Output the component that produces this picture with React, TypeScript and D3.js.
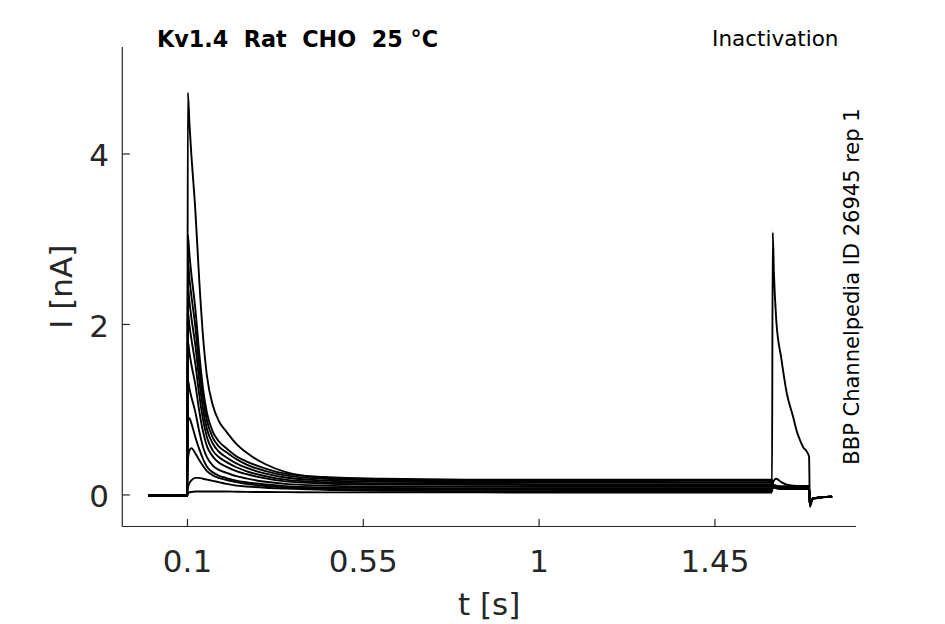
import { useMemo } from 'react';
import * as d3 from 'd3';

// sample times (s): prepulse and test pulse segments
const prepulseTimes = [0, 0.0995, 0.101, 0.105, 0.11, 0.12, 0.13, 0.14, 0.15, 0.165, 0.18, 0.2, 0.225, 0.25, 0.3, 0.35, 0.45, 0.6, 0.85, 1.1, 1.35, 1.596];
const testTimes = [1.598, 1.601, 1.607, 1.62, 1.634, 1.65, 1.66, 1.668, 1.676, 1.685, 1.691, 1.693, 1.7, 1.75];

// currents (nA) per sweep during the prepulse
const pre1 = [-0.01, -0.01, 4.72, 4.36, 3.99, 3.35, 2.53, 1.85, 1.39, 1.05, 0.87, 0.74, 0.6, 0.5, 0.36, 0.27, 0.2, 0.17, 0.16, 0.16, 0.15, 0.15];
const pre2 = [-0.01, -0.01, 3.05, 2.82, 2.59, 2.19, 1.67, 1.24, 0.96, 0.74, 0.63, 0.545, 0.455, 0.395, 0.31, 0.25, 0.21, 0.19, 0.18, 0.18, 0.18, 0.18];
const pre3 = [0, -0.01, 2.75, 2.54, 2.34, 1.98, 1.51, 1.13, 0.87, 0.67, 0.57, 0.5, 0.42, 0.36, 0.28, 0.23, 0.19, 0.175, 0.17, 0.165, 0.165, 0.165];
const pre4 = [-0.01, 0, 2.45, 2.27, 2.08, 1.76, 1.35, 1.0, 0.77, 0.6, 0.51, 0.44, 0.37, 0.32, 0.25, 0.205, 0.17, 0.155, 0.15, 0.145, 0.145, 0.145];
const pre5 = [-0.01, -0.01, 2.15, 1.99, 1.83, 1.54, 1.18, 0.88, 0.675, 0.52, 0.445, 0.385, 0.325, 0.28, 0.22, 0.18, 0.15, 0.135, 0.13, 0.125, 0.125, 0.125];
const pre6 = [0, -0.01, 1.8, 1.67, 1.53, 1.3, 0.99, 0.74, 0.57, 0.45, 0.38, 0.33, 0.28, 0.246, 0.194, 0.16, 0.135, 0.123, 0.12, 0.115, 0.115, 0.115];
const pre7 = [-0.01, -0.01, 1.35, 1.25, 1.15, 0.975, 0.75, 0.56, 0.44, 0.345, 0.295, 0.26, 0.22, 0.194, 0.155, 0.13, 0.11, 0.1, 0.1, 0.095, 0.095, 0.095];
const pre8 = [-0.01, -0.01, 0.86, 0.9, 0.84, 0.68, 0.54, 0.42, 0.33, 0.265, 0.227, 0.198, 0.168, 0.149, 0.122, 0.104, 0.088, 0.082, 0.08, 0.078, 0.078, 0.078];
const pre9 = [-0.01, -0.01, 0.4, 0.52, 0.55, 0.49, 0.41, 0.34, 0.28, 0.23, 0.2, 0.175, 0.15, 0.13, 0.105, 0.09, 0.072, 0.065, 0.06, 0.058, 0.058, 0.058];
const pre10 = [-0.01, -0.01, 0.08, 0.14, 0.17, 0.2, 0.2, 0.19, 0.18, 0.165, 0.15, 0.13, 0.11, 0.1, 0.085, 0.075, 0.06, 0.05, 0.045, 0.045, 0.04, 0.04];
const pre11 = [-0.01, -0.01, 0.02, 0.03, 0.035, 0.04, 0.04, 0.04, 0.04, 0.04, 0.04, 0.04, 0.038, 0.036, 0.035, 0.033, 0.03, 0.03, 0.03, 0.028, 0.028, 0.028];

// currents (nA) per sweep during the test pulse
const test1 = [0.12, 0.115, 0.11, 0.1, 0.1, 0.1, 0.1, 0.1, 0.1, 0.1, 0.1, -0.1, -0.04, -0.02];
const test2 = [0.12, 0.115, 0.11, 0.1, 0.1, 0.1, 0.1, 0.1, 0.1, 0.1, 0.1, -0.1, -0.04, -0.02];
const test3 = [0.11, 0.105, 0.1, 0.09, 0.09, 0.09, 0.09, 0.09, 0.09, 0.09, 0.09, -0.1, -0.04, -0.02];
const test4 = [0.11, 0.105, 0.1, 0.09, 0.09, 0.09, 0.09, 0.09, 0.09, 0.09, 0.09, -0.11, -0.04, -0.02];
const test5 = [0.1, 0.095, 0.09, 0.08, 0.08, 0.08, 0.08, 0.08, 0.08, 0.08, 0.08, -0.11, -0.04, -0.02];
const test6 = [0.1, 0.095, 0.09, 0.08, 0.08, 0.08, 0.08, 0.08, 0.08, 0.08, 0.08, -0.11, -0.04, -0.02];
const test7 = [0.1, 0.095, 0.09, 0.08, 0.08, 0.08, 0.08, 0.08, 0.08, 0.08, 0.08, -0.12, -0.04, -0.02];
const test8 = [0.09, 0.085, 0.08, 0.07, 0.07, 0.07, 0.07, 0.07, 0.07, 0.07, 0.07, -0.12, -0.04, -0.02];
const test9 = [0.09, 0.085, 0.08, 0.07, 0.07, 0.07, 0.07, 0.07, 0.07, 0.07, 0.07, -0.12, -0.04, -0.02];
const test10 = [0.12, 0.17, 0.19, 0.15, 0.12, 0.11, 0.105, 0.105, 0.105, 0.105, 0.105, -0.12, -0.04, -0.02];
const test11 = [3.08, 2.6, 2.05, 1.6, 1.19, 0.92, 0.74, 0.64, 0.56, 0.51, 0.45, -0.14, -0.05, -0.02];

const sweeps = [
  [pre1, test1], [pre2, test2], [pre3, test3], [pre4, test4], [pre5, test5], [pre6, test6],
  [pre7, test7], [pre8, test8], [pre9, test9], [pre10, test10], [pre11, test11],
];

const xTicks = [0.1, 0.55, 1, 1.45];
const yTicks = [0, 2, 4];

const axisColor = '#262626';
const font = 'DejaVu Sans, sans-serif';

export default function App() {
  const width = 945;
  const height = 624;
  const left = 122.3;
  const right = 856;
  const top = 47;
  const bottom = 526.5;

  const x = d3.scaleLinear().domain([-0.0668, 1.8111]).range([left, right]);
  const y = d3.scaleLinear().domain([-0.37, 5.255]).range([bottom, top]);

  const paths = useMemo(() => {
    const times = prepulseTimes.concat(testTimes);
    const line = d3
      .line<number>()
      .x((_, i) => x(times[i]))
      .y((d) => y(d))
      .curve(d3.curveMonotoneX);
    return sweeps.map(([pre, test]) => line(pre.concat(test)) ?? '');
  }, []);

  return (
    <svg
      width={width}
      height={height}
      style={{ position: 'absolute', left: 0, top: 0, background: '#fff' }}
      fontFamily={font}
    >
      <rect width={width} height={height} fill="#fff" />

      <g fill="none" stroke="#000" strokeWidth={1.9} strokeLinejoin="round">
        {paths.map((d, i) => (
          <path key={i} d={d} />
        ))}
      </g>

      {/* axes */}
      <g stroke={axisColor} strokeWidth={1.2} fill="none">
        <line x1={left} x2={right} y1={bottom} y2={bottom} />
        <line x1={left} x2={left} y1={top} y2={bottom} />
        {xTicks.map((t) => (
          <line key={t} x1={x(t)} x2={x(t)} y1={bottom} y2={bottom - 7.5} />
        ))}
        {yTicks.map((t) => (
          <line key={t} x1={left} x2={left + 7.5} y1={y(t)} y2={y(t)} />
        ))}
      </g>

      <g fill={axisColor} fontSize={31}>
        {xTicks.map((t) => (
          <text key={t} x={x(t)} y={572} textAnchor="middle">
            {String(t)}
          </text>
        ))}
        {yTicks.map((t) => (
          <text key={t} x={109} y={y(t) + 12.5} textAnchor="end">
            {String(t)}
          </text>
        ))}
        <text x={(left + right) / 2} y={615} textAnchor="middle">
          t [s]
        </text>
        <text transform={`translate(72, ${(top + bottom) / 2}) rotate(-90)`} textAnchor="middle">
          I [nA]
        </text>
      </g>

      <text x={157} y={47} fontSize={22.3} fontWeight="bold" fill="#000" style={{ whiteSpace: 'pre' }}>
        {'Kv1.4  Rat  CHO  25 °C'}
      </text>
      <text x={838.5} y={46} fontSize={21.5} textAnchor="end" fill="#000">
        Inactivation
      </text>
      <text
        transform={`translate(858.5, 286.5) rotate(-90)`}
        fontSize={21}
        textAnchor="middle"
        fill="#000"
      >
        BBP Channelpedia ID 26945 rep 1
      </text>
    </svg>
  );
}
